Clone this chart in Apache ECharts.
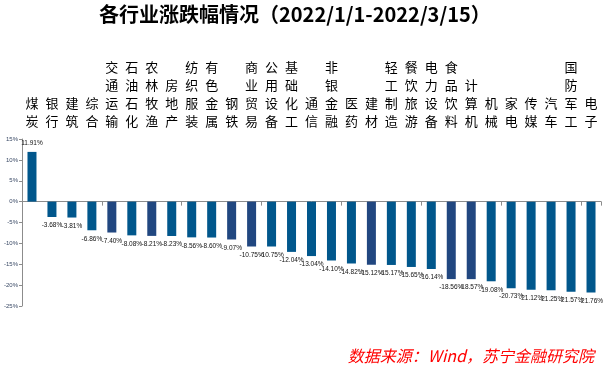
<!DOCTYPE html>
<html><head><meta charset="utf-8">
<script src="https://cdn.jsdelivr.net/npm/echarts@6/dist/echarts.min.js"></script>
<style>html,body{margin:0;padding:0;background:#fff}#c{width:608px;height:365px}</style>
</head><body><div id="c"></div>
<script>
const categories = ['煤炭','银行','建筑','综合','交通运输','石油石化','农林牧渔','房地产','纺织服装','有色金属','钢铁','商业贸易','公用设备','基础化工','通信','非银金融','医药','建材','轻工制造','餐饮旅游','电力设备','食品饮料','计算机','机械','家电','传媒','汽车','国防军工','电子'];
const values = [11.91,-3.68,-3.81,-6.86,-7.40,-8.08,-8.21,-8.23,-8.56,-8.60,-9.07,-10.75,-10.75,-12.04,-13.04,-14.10,-14.82,-15.12,-15.17,-15.65,-16.14,-18.56,-18.57,-19.08,-20.73,-21.12,-21.25,-21.57,-21.76];
const darkCategories = ['交通运输','农林牧渔','钢铁','商业贸易','建材','食品饮料','计算机'];
const yTicks = {min:-25, max:15, step:5};

const chart = echarts.init(document.getElementById('c'), null, {renderer:'canvas'});
chart.setOption({
  animation:false,
  backgroundColor:'#fff',
  title:[{
    text:'各行业涨跌幅情况（2022/1/1-2022/3/15）',
    left:94, top:-1,
    textStyle:{fontFamily:'"Noto Sans CJK SC"',fontWeight:'bold',fontSize:20,color:'#000'}
  },{
    text:'数据来源：Wind，苏宁金融研究院',
    right:9, top:343,
    textStyle:{fontFamily:'"Noto Sans CJK SC"',fontWeight:'normal',fontStyle:'italic',fontSize:16,color:'#FF0000'}
  }],
  grid:{left:22,right:7,top:139,bottom:59,containLabel:false},
  xAxis:[{
    type:'category', data:categories, position:'bottom',
    axisLine:{onZero:true,lineStyle:{color:'#8c8c8c',width:1}},
    axisTick:{show:true,length:4,lineStyle:{color:'#8c8c8c'}},
    axisLabel:{show:false}, splitLine:{show:false}
  },{
    type:'category', data:categories, position:'top',
    axisLine:{show:false,onZero:false}, axisTick:{show:false},
    axisLabel:{show:true,interval:0,margin:9,
      formatter:v=>v.split('').join('\n'),
      fontFamily:'"Noto Sans CJK SC"',fontSize:13,lineHeight:18,color:'#000'}
  }],
  yAxis:{
    type:'value', min:yTicks.min, max:yTicks.max, interval:yTicks.step,
    axisLine:{show:true,lineStyle:{color:'#8c8c8c'}},
    axisTick:{show:true,length:3,lineStyle:{color:'#8c8c8c'}},
    splitLine:{show:false},
    axisLabel:{formatter:'{value}%',fontSize:6,color:'#3a4a66',margin:4,fontFamily:'Arial, "Liberation Sans"'}
  },
  series:[{
    type:'bar', xAxisIndex:0, barWidth:9,
    data:values.map((v,i)=>({value:v,itemStyle:{color:darkCategories.includes(categories[i])?'#214780':'#01578C'}})),
    label:{show:true,position:'outside',distance:5,fontSize:6.5,color:'#111',
      fontFamily:'Arial, "Liberation Sans"',
      formatter:p=>p.value.toFixed(2)+'%'}
  }]
});
</script></body></html>
